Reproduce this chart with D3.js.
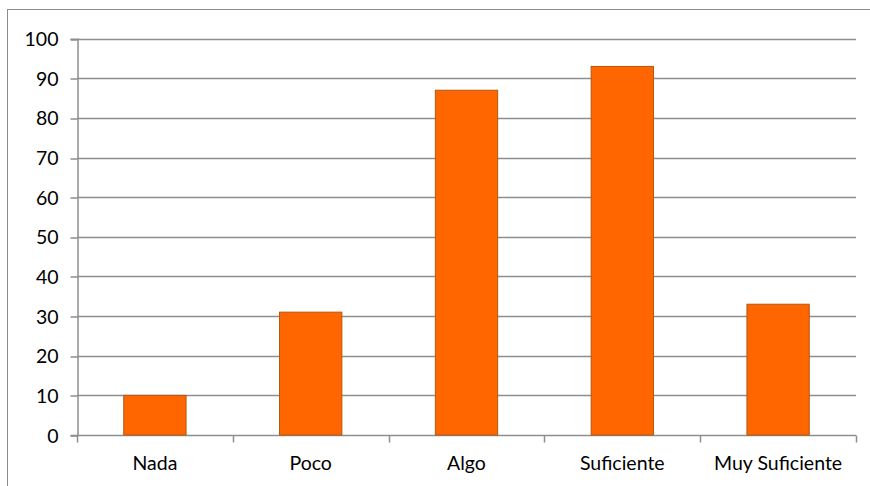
<!DOCTYPE html>
<html>
<head>
<meta charset="utf-8">
<script src="https://cdn.jsdelivr.net/npm/d3@7"></script>
<style>
  html, body { margin: 0; padding: 0; background: #fff; }
  svg { display: block; }
</style>
</head>
<body>
<svg id="chart" width="870" height="486"></svg>
<script>
// Survey answers and their counts
const categories = ["Nada", "Poco", "Algo", "Suficiente", "Muy Suficiente"];
const values = [10, 31, 87, 93, 33];
const yTicks = [0, 10, 20, 30, 40, 50, 60, 70, 80, 90, 100];

const W = 870, H = 486;
const plot = { left: 77, right: 856, top: 38.7, bottom: 435 };
const font = "Lato, 'Open Sans', sans-serif";
const fontSize = 19.5;
const gridColor = "#8e8e8e";
const lineW = 1.5;

const svg = d3.select("#chart");

// Chart frame (continues past the visible edge)
svg.append("rect")
  .attr("x", 7.5).attr("y", 9.5)
  .attr("width", W + 20).attr("height", H + 20)
  .attr("fill", "#fff").attr("stroke", "#8c8c8c").attr("stroke-width", 1);

const x = d3.scaleBand()
  .domain(categories)
  .range([plot.left, plot.right])
  .paddingInner(0.6)
  .paddingOuter(0.3);

const y = d3.scaleLinear()
  .domain([0, 100])
  .range([plot.bottom, plot.top]);

const snap = v => Math.round(v) + 0.5;

// Horizontal gridlines
svg.append("g")
  .selectAll("line")
  .data(yTicks.filter(d => d > 0))
  .join("line")
  .attr("x1", plot.left).attr("x2", plot.right)
  .attr("y1", d => snap(y(d))).attr("y2", d => snap(y(d)))
  .attr("stroke", gridColor).attr("stroke-width", lineW);

// Y axis
const yAxis = svg.append("g")
  .attr("transform", `translate(${snap(plot.left)},0)`)
  .call(d3.axisLeft(y).tickValues(yTicks).tickSize(7).tickPadding(12)
    .tickFormat(d3.format("d")));
yAxis.select(".domain").attr("stroke", gridColor).attr("stroke-width", lineW);
yAxis.selectAll(".tick line").attr("stroke", gridColor).attr("stroke-width", lineW)
  .attr("transform", d => `translate(0,${snap(y(d)) - y(d)})`);
yAxis.selectAll(".tick text")
  .attr("font-family", font).attr("font-size", fontSize).attr("fill", "#000")
  .attr("dy", "0.36em");

// X axis with tick marks at category boundaries
const xAxisY = snap(plot.bottom);
const xg = svg.append("g");
xg.append("line")
  .attr("x1", plot.left).attr("x2", plot.right)
  .attr("y1", xAxisY).attr("y2", xAxisY)
  .attr("stroke", gridColor).attr("stroke-width", lineW);
const boundary = i => snap(x(categories[0]) - x.paddingOuter() * x.step() + i * x.step());
xg.selectAll("line.b")
  .data(d3.range(categories.length + 1))
  .join("line").attr("class", "b")
  .attr("x1", boundary).attr("x2", boundary)
  .attr("y1", xAxisY).attr("y2", xAxisY + 7)
  .attr("stroke", gridColor).attr("stroke-width", lineW);
xg.selectAll("text")
  .data(categories)
  .join("text")
  .attr("x", d => x(d) + x.bandwidth() / 2)
  .attr("y", 469.5)
  .attr("text-anchor", "middle")
  .attr("font-family", font).attr("font-size", fontSize).attr("fill", "#000")
  .text(d => d);

// Bars
svg.append("g")
  .selectAll("rect")
  .data(categories.map((c, i) => ({ c, v: values[i] })))
  .join("rect")
  .attr("x", d => x(d.c))
  .attr("y", d => y(d.v))
  .attr("width", x.bandwidth())
  .attr("height", d => y(0) - y(d.v))
  .attr("fill", "#ff6600")
  .attr("stroke", "#b5560f")
  .attr("stroke-width", 1);
</script>
</body>
</html>
